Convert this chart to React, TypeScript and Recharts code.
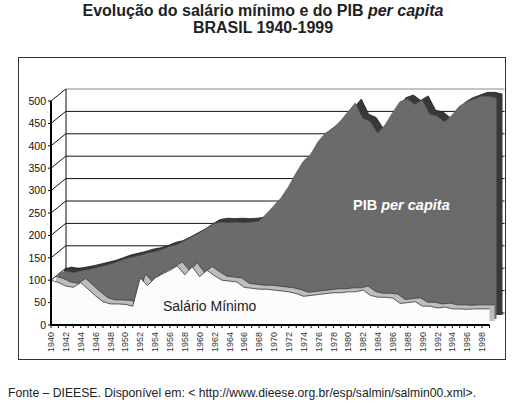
import { AreaChart, Area, XAxis, YAxis, ReferenceLine } from 'recharts'

const years = [
  1940, 1941, 1942, 1943, 1944, 1945, 1946, 1947, 1948, 1949,
  1950, 1951, 1952, 1953, 1954, 1955, 1956, 1957, 1958, 1959,
  1960, 1961, 1962, 1963, 1964, 1965, 1966, 1967, 1968, 1969,
  1970, 1971, 1972, 1973, 1974, 1975, 1976, 1977, 1978, 1979,
  1980, 1981, 1982, 1983, 1984, 1985, 1986, 1987, 1988, 1989,
  1990, 1991, 1992, 1993, 1994, 1995, 1996, 1997, 1998, 1999,
]

const pibPerCapita = [
  100, 107, 103, 107, 110, 114, 118, 122, 128, 134,
  138, 142, 147, 150, 155, 162, 166, 174, 183, 192,
  203, 213, 216, 215, 216, 215, 216, 218, 234, 252,
  270, 295, 325, 352, 368, 396, 415, 426, 442, 462,
  482, 448, 441, 415, 433, 460, 485, 491, 479, 489,
  457, 453, 440, 455, 475, 485, 491, 497, 497, 493,
]

const salarioMinimo = [
  100, 95, 87, 84, 95, 80, 65, 52, 47, 47,
  46, 42, 105, 88, 105, 114, 122, 132, 112, 130,
  108, 122, 110, 100, 98, 96, 84, 82, 80, 80,
  78, 76, 74, 70, 64, 66, 68, 70, 72, 72,
  74, 74, 78, 66, 62, 62, 60, 48, 50, 52,
  42, 42, 38, 40, 36, 36, 35, 36, 36, 36,
]

const yTicks = [0, 50, 100, 150, 200, 250, 300, 350, 400, 450, 500]

const data = years.map((year, i) => ({
  year,
  pib: pibPerCapita[i],
  salario: salarioMinimo[i],
}))

const FONT = '"Liberation Sans", Arial, sans-serif'
const W = 512
const H = 414
const MARGIN = { top: 101, right: 22.5, bottom: 59, left: 11 }

const YearTick = ({ x, y, payload }: any) => {
  if (payload.value % 2 !== 0) return <g />
  const ty = y + 2
  return (
    <text
      x={x}
      y={ty}
      transform={`rotate(-90 ${x} ${ty})`}
      textAnchor="end"
      dy="0.35em"
      fontSize={9}
      fontFamily={FONT}
      fill="#333"
    >
      {payload.value}
    </text>
  )
}

// same plot box in every layer; only the front one shows its axes
const axes = (show: boolean) => [
  <XAxis
    key="x"
    dataKey="year"
    type="number"
    domain={[1940, 1999]}
    ticks={years}
    height={30}
    interval={0}
    tickSize={3}
    tickMargin={2}
    axisLine={show ? { stroke: '#000', strokeWidth: 2 } : false}
    tickLine={show ? { stroke: '#000' } : false}
    tick={show ? <YearTick /> : false}
  />,
  <YAxis
    key="y"
    width={40}
    domain={[0, 500]}
    ticks={yTicks}
    interval={0}
    tickSize={3}
    tickMargin={2}
    axisLine={show ? { stroke: '#000', strokeWidth: 2 } : false}
    tickLine={show ? { stroke: '#000' } : false}
    tick={show ? { fontSize: 10.5, fill: '#111', fontFamily: FONT } : false}
  />,
]

// invisible series so that the wall layers get their scales
const ghost = (
  <Area type="linear" dataKey="pib" fill="none" stroke="none" dot={false} activeDot={false} isAnimationActive={false} />
)

function Layer({ dx, dy, show = false, children }: any) {
  return (
    <div style={{ position: 'absolute', left: dx, top: dy }}>
      <AreaChart width={W} height={H} data={data} margin={MARGIN}>
        {axes(show)}
        {children}
      </AreaChart>
    </div>
  )
}

export default function App() {
  return (
    <div
      style={{
        position: 'absolute',
        left: 0,
        top: 0,
        width: W,
        height: H,
        overflow: 'hidden',
        background: '#fff',
        fontFamily: FONT,
      }}
    >
      {/* side wall */}
      <Layer dx={0} dy={0}>
        {ghost}
        {yTicks.map((v) => (
          <ReferenceLine
            key={v}
            segment={[{ x: 1940, y: v }, { x: 1942, y: v + 27 }]}
            stroke="#111"
            ifOverflow="visible"
          />
        ))}
      </Layer>

      {/* back wall */}
      <Layer dx={15} dy={-12}>
        {ghost}
        {yTicks.map((v) => (
          <ReferenceLine key={v} y={v} stroke={v === 500 ? '#888' : '#111'} ifOverflow="visible" />
        ))}
        <ReferenceLine x={1940} stroke="#111" ifOverflow="visible" />
      </Layer>

      {/* PIB slab */}
      <Layer dx={13} dy={-10}>
        <Area type="linear" dataKey="pib" fill="#383838" fillOpacity={1} stroke="#1a1a1a" strokeWidth={0.8} dot={false} isAnimationActive={false} />
      </Layer>
      <Layer dx={7} dy={-6}>
        <Area type="linear" dataKey="pib" fill="#6b6b6b" fillOpacity={1} stroke="#505050" strokeWidth={0.6} dot={false} isAnimationActive={false} />
      </Layer>

      {/* Salário slab */}
      <Layer dx={5} dy={-4}>
        <Area type="linear" dataKey="salario" fill="#bdbdbd" fillOpacity={1} stroke="#3a3a3a" strokeWidth={0.8} dot={false} isAnimationActive={false} />
      </Layer>
      <Layer dx={0} dy={0} show>
        <Area type="linear" dataKey="salario" fill="#fcfcfc" fillOpacity={1} stroke="#333" strokeWidth={0.8} dot={false} isAnimationActive={false} />
      </Layer>

      <svg
        width={W}
        height={H}
        style={{ position: 'absolute', left: 0, top: 0, pointerEvents: 'none' }}
      >
        <rect x={18.5} y={57.5} width={487} height={302} fill="none" stroke="#333" />
        <text x={263} y={16} textAnchor="middle" fontSize={16} fontWeight="bold" fill="#222" fontFamily={FONT}>
          Evolução do salário mínimo e do PIB <tspan fontStyle="italic">per capita</tspan>
        </text>
        <text x={263} y={33} textAnchor="middle" fontSize={16} fontWeight="bold" fill="#222" fontFamily={FONT}>
          BRASIL 1940-1999
        </text>
        <text x={163} y={311} fontSize={14} fill="#222" fontFamily={FONT}>
          Salário Mínimo
        </text>
        <text x={353} y={210} fontSize={14.5} fontWeight="bold" fill="#fff" fontFamily={FONT}>
          PIB <tspan fontStyle="italic">per capita</tspan>
        </text>
        <text x={8} y={397} fontSize={12.2} fill="#222" fontFamily={FONT}>
          Fonte – DIEESE. Disponível em: &lt; http://www.dieese.org.br/esp/salmin/salmin00.xml&gt;.
        </text>
      </svg>
    </div>
  )
}
